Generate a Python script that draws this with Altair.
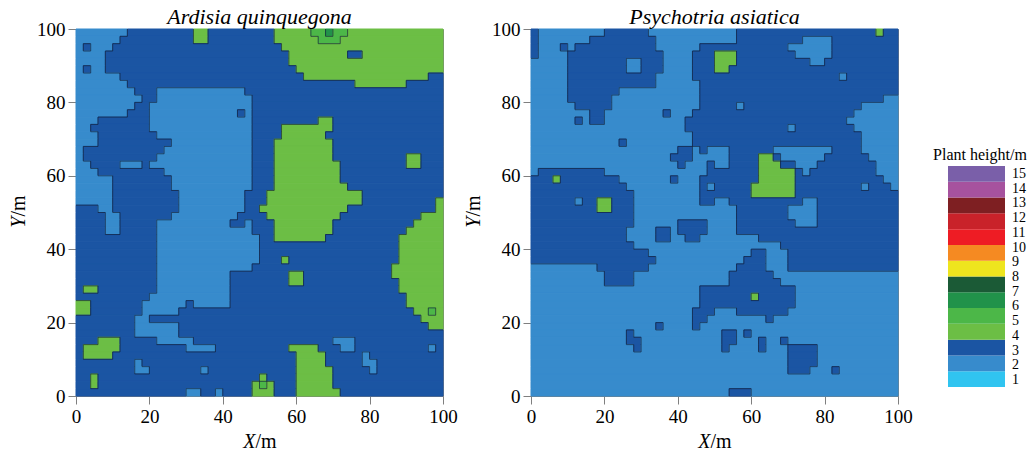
import altair as alt
import pandas as pd

N = 50          # grid cells per side
CELL = 2.0      # metres per cell

# Grid rows (top row first). Each row: "colStart-colEnd:level" segments over a default level.
left_default = "3"
left_rows = [
    "0-6:2 16-17:4 27-31:4 32-36:5 34:6 37-49:4",
    "0-5:2 16-17:4 27-32:4 33-35:5 36-49:4",
    "0:2 2-4:2 28-49:4",
    "0-3:2 29-36:4 39-49:4",
    "0-3:2 29-49:4",
    "0:2 2-3:2 30-49:4",
    "0-5:2 31-47:4",
    "0-6:2 38-44:4",
    "0-7:2 11-22:2",
    "0-8:2 11-23:2",
    "0-7:2 10-23:2",
    "0-6:2 10-21:2 23:2",
    "0-2:2 10-23:2 33-34:4",
    "0-1:2 10-23:2 28-34:4",
    "0-2:2 11-23:2 28-33:4",
    "0-2:2 13-23:2 27-34:4",
    "0:2 12-23:2 27-34:4",
    "0:2 11-23:2 27-34:4 45-46:4",
    "0-1:2 6-8:2 10-23:2 27-35:4 45-46:4",
    "0-2:2 12-23:2 27-35:4",
    "0-4:2 13-23:2 27-35:4",
    "0-4:2 13-23:2 27-36:4",
    "0-4:2 14-22:2 26-38:4",
    "0-4:2 14-22:2 26-38:4 49:4",
    "3-4:2 14-22:2 25-36:4 49:4",
    "4-5:2 13-21:2 26-35:4 47-49:4",
    "4-5:2 11-20:2 23:2 27-34:4 46-49:4",
    "4-5:2 11-23:2 27-34:4 45-49:4",
    "11-24:2 27-33:4 44-49:4",
    "11-24:2 44-49:4",
    "11-24:2 44-49:4",
    "11-24:2 28:4 44-49:4",
    "11-23:2 43-49:4",
    "11-20:2 29-30:4 43-49:4",
    "11-20:2 29-30:4 44-49:4",
    "1-2:4 11-20:2 44-49:4",
    "10-20:2 45-49:4",
    "0-1:4 9-14:2 16-20:2 45-49:4",
    "0-1:4 9-13:2 46-47:4 48:5 49:4",
    "8-9:2 47-49:4",
    "8-13:2 48-49:4",
    "8-13:2",
    "3-5:4 11-15:2 35-37:2",
    "1-5:4 15-18:2 29-32:4 36-37:2 48:2",
    "1-4:4 30-33:4 39:2",
    "8:2 30-33:4 39-40:2",
    "8-9:2 17:2 30-34:4 40:2",
    "2:4 25:4 30-34:4",
    "2:4 24:4 25:5 26:4 30-34:4",
    "15-16:2 19:2 24-26:4 30-35:4",
]

right_default = "2"
right_rows = [
    "0:3 10-15:3 28-46:3 47:4 48-49:3",
    "0:3 8-16:3 28-36:3 41-49:3",
    "0:3 4:3 6-16:3 23-34:3 41-49:3",
    "0:3 5-17:3 22-24:3 25-27:4 28-35:3 41-49:3",
    "5-12:3 15-17:3 22-24:3 25-27:4 28-37:3 40-49:3",
    "5-12:3 15-17:3 22-24:3 25-26:4 27-49:3",
    "5-16:3 22-41:3 43-49:3",
    "5-16:3 23-49:3",
    "5-11:3 23-49:3",
    "5-10:3 23-47:3",
    "6-10:3 23-27:3 29-44:3",
    "8-9:3 18:3 22-43:3",
    "6:3 8-9:3 21-42:3",
    "21-34:3 36-43:3",
    "22-44:3",
    "12:3 22-44:3",
    "20-21:3 23:3 27-32:3 41-44:3",
    "19-21:3 27-30:3 31-32:4 33:3 40-45:3",
    "20:3 24:3 27-30:3 31-33:4 34-35:3 39-46:3",
    "1-9:3 24-30:3 31-35:4 36:3 38-46:3",
    "0-2:3 3:4 4-11:3 19:3 23-30:3 31-35:4 36-47:3",
    "0-12:3 23:3 25-29:3 30-35:4 36-44:3 46-48:3",
    "0-13:3 23-29:3 30-35:4 36-49:3",
    "0-5:3 7-8:3 9-10:4 11-13:3 23-24:3 27-36:3 39-49:3",
    "0-8:3 9-10:4 11-13:3 28-34:3 39-49:3",
    "0-13:3 28-34:3 39-49:3",
    "0-13:3 20-23:3 28-35:3 39-49:3",
    "0-12:3 17-18:3 20-23:3 28-49:3",
    "0-12:3 17-18:3 21-22:3 31-49:3",
    "0-13:3 34-49:3",
    "0-15:3 30-31:3 35-49:3",
    "0-16:3 29-31:3 35-49:3",
    "9-15:3 28-31:3 35-49:3",
    "10-13:3 27-32:3",
    "10-13:3 27-33:3",
    "23-35:3",
    "23-29:3 30:4 31-35:3",
    "23-35:3",
    "22-24:3 28-34:3",
    "22-23:3 32:3",
    "17:3 22:3",
    "13:3 26-27:3 29:3",
    "13-14:3 26-27:3 31:3 34:3",
    "14:3 26:3 31:3 35-38:3",
    "35-38:3",
    "35-38:3",
    "35-37:3 41:3",
    "",
    "",
    "27-29:3",
]

level_codes = ["2", "3", "4", "5", "6"]
level_colors = ["#378bcc", "#1b55a3", "#6cbe45", "#4cb748", "#21924a"]

legend_labels = [str(i) for i in range(1, 16)]
legend_colors = ["#30c4f0", "#378bcc", "#1b55a3", "#6cbe45", "#4cb748", "#21924a",
                 "#1b5a36", "#eee51e", "#f58a22", "#ee1c24", "#c9222a", "#7e1f22",
                 "#a6529e", "#7a5fa9"]

ticks = [0, 20, 40, 60, 80, 100]
FONT = "Liberation Serif"


def grid(rows, default):
    out = []
    for spec in rows:
        cells = [default] * N
        for seg in spec.split():
            rng, lev = seg.split(":")
            if "-" in rng:
                a, b = map(int, rng.split("-"))
            else:
                a = b = int(rng)
            for j in range(a, b + 1):
                cells[j] = lev
        out.append(cells)
    return out


def cells_df(g):
    recs = []
    for i, cells in enumerate(g):
        j = 0
        while j < N:
            k = j
            while k + 1 < N and cells[k + 1] == cells[j]:
                k += 1
            recs.append({"x0": j * CELL, "x1": (k + 1) * CELL,
                         "y0": 100 - (i + 1) * CELL, "y1": 100 - i * CELL,
                         "level": cells[j]})
            j = k + 1
    return pd.DataFrame(recs)


def edges_df(g):
    """Contour lines: boundaries between cells of different level."""
    recs = []
    for i in range(N - 1):
        j = 0
        while j < N:
            if g[i][j] != g[i + 1][j]:
                k = j
                while k + 1 < N and g[i][k + 1] != g[i + 1][k + 1]:
                    k += 1
                y = 100 - (i + 1) * CELL
                recs.append({"xa": j * CELL, "xb": (k + 1) * CELL, "ya": y, "yb": y})
                j = k + 1
            else:
                j += 1
    for j in range(N - 1):
        i = 0
        while i < N:
            if g[i][j] != g[i][j + 1]:
                k = i
                while k + 1 < N and g[k + 1][j] != g[k + 1][j + 1]:
                    k += 1
                x = (j + 1) * CELL
                recs.append({"xa": x, "xb": x, "ya": 100 - i * CELL, "yb": 100 - (k + 1) * CELL})
                i = k + 1
            else:
                i += 1
    return pd.DataFrame(recs)


def one(**kw):
    return alt.Data(values=[kw])


def panel(rows, default, title):
    g = grid(rows, default)
    xs = alt.Scale(domain=[0, 100], nice=False, zero=False)
    ys = alt.Scale(domain=[0, 100], nice=False, zero=False)
    cs = alt.Scale(domain=level_codes, range=level_colors)
    rects = alt.Chart(cells_df(g)).mark_rect(strokeWidth=1).encode(
        x=alt.X("x0:Q", scale=xs, axis=alt.Axis(values=ticks, title=None, labelFlush=False)),
        x2="x1:Q",
        y=alt.Y("y0:Q", scale=ys, axis=alt.Axis(values=ticks, title=None, labelFlush=False)),
        y2="y1:Q",
        color=alt.Color("level:N", scale=cs, legend=None),
        stroke=alt.Stroke("level:N", scale=cs, legend=None),
    )
    lines = alt.Chart(edges_df(g)).mark_rule(color="#14213a", strokeWidth=0.8, opacity=0.85).encode(
        x="xa:Q", x2="xb:Q", y="ya:Q", y2="yb:Q"
    )
    ttl = alt.Chart(one(t=title)).mark_text(
        font=FONT, fontSize=22, fontStyle="italic", baseline="alphabetic", align="center"
    ).encode(x=alt.datum(50), y=alt.value(-5), text="t:N")
    xa = alt.Chart(one(t="X")).mark_text(
        font=FONT, fontSize=20, fontStyle="italic", align="right", baseline="alphabetic", dx=-4
    ).encode(x=alt.datum(50), y=alt.value(419), text="t:N")
    xb = alt.Chart(one(t="/m")).mark_text(
        font=FONT, fontSize=20, align="left", baseline="alphabetic", dx=-4
    ).encode(x=alt.datum(50), y=alt.value(419), text="t:N")
    ya = alt.Chart(one(t="Y")).mark_text(
        font=FONT, fontSize=20, fontStyle="italic", align="right", baseline="middle", angle=270, dx=-4
    ).encode(y=alt.datum(50), x=alt.value(-57), text="t:N")
    yb = alt.Chart(one(t="/m")).mark_text(
        font=FONT, fontSize=20, align="left", baseline="middle", angle=270, dx=-4
    ).encode(y=alt.datum(50), x=alt.value(-57), text="t:N")
    return alt.layer(rects, lines, ttl, xa, xb, ya, yb).properties(width=367, height=367)


left = panel(left_rows, left_default, "Ardisia quinquegona")
right = panel(right_rows, right_default, "Psychotria asiatica")

# legend panel
leg_df = pd.DataFrame({"lo": list(range(1, 15)), "hi": list(range(2, 16)),
                       "color": legend_colors, "x0": 29, "x1": 86})
lab_df = pd.DataFrame({"k": list(range(1, 16)), "lab": legend_labels, "x": 93})
lxs = alt.Scale(domain=[0, 110], nice=False, zero=False)
leg_rects = alt.Chart(leg_df).mark_rect().encode(
    x=alt.X("x0:Q", scale=lxs, axis=None),
    x2="x1:Q",
    y=alt.Y("lo:Q", scale=alt.Scale(domain=[0.430, 23.679], nice=False, zero=False), axis=None),
    y2="hi:Q",
    color=alt.Color("color:N", scale=None),
)
leg_labels = alt.Chart(lab_df).mark_text(font=FONT, fontSize=14, align="left", baseline="middle").encode(
    x=alt.X("x:Q", scale=lxs, axis=None),
    y=alt.Y("k:Q", scale=alt.Scale(domain=[-0.087, 24.855], nice=False, zero=False), axis=None),
    text="lab:N",
)
leg_title = alt.Chart(one(t="Plant height/m")).mark_text(
    font=FONT, fontSize=16, align="center", baseline="alphabetic"
).encode(x=alt.X("p:Q", scale=lxs, axis=None), y=alt.value(131), text="t:N").transform_calculate(p="61")
legend = alt.layer(leg_rects, leg_labels, leg_title).resolve_scale(y="independent").properties(
    width=110, height=367, view=alt.ViewBackground(stroke="transparent")
)

chart = alt.hconcat(left, right, legend, spacing=5).properties(
    padding={"left": 8, "top": 5, "right": 0, "bottom": 0}
).configure_view(stroke="#7f7f7f", strokeWidth=1).configure_axis(
    labelFont=FONT, labelFontSize=19, labelColor="black", tickColor="#7f7f7f",
    domainColor="#7f7f7f", tickSize=8, labelPadding=3, grid=False
)

chart.save("out.html", embed_options={"renderer": "svg", "actions": False})
